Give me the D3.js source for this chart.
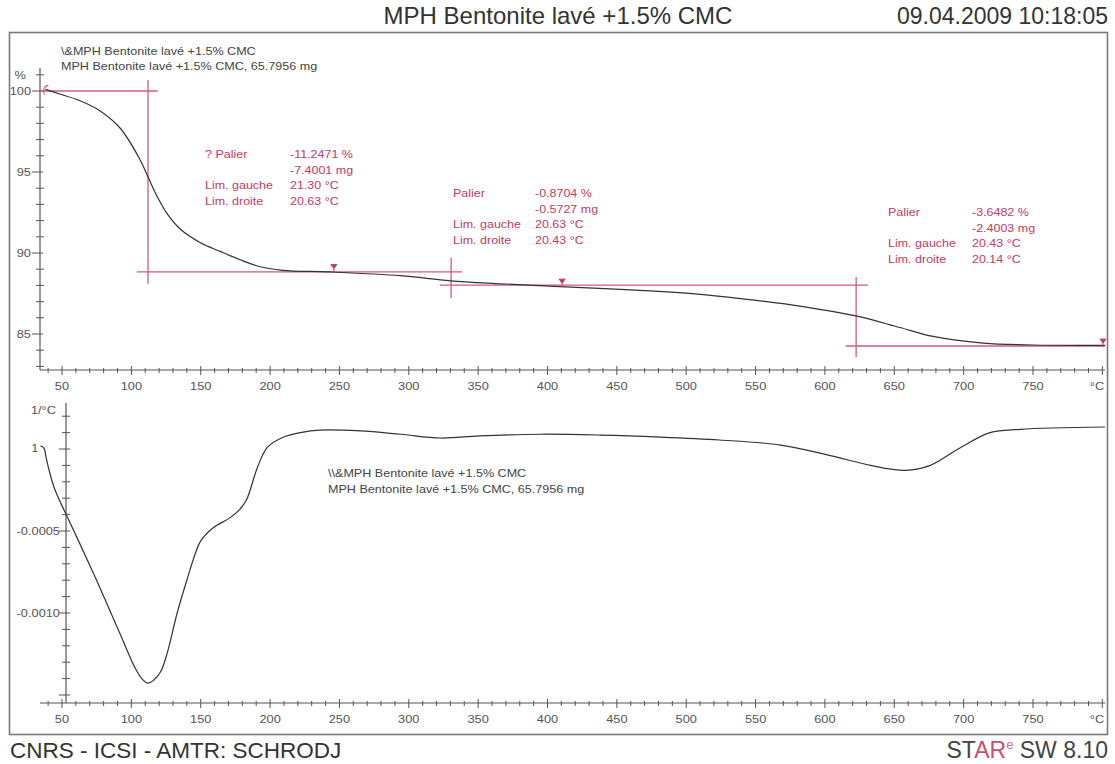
<!DOCTYPE html>
<html><head><meta charset="utf-8">
<script src="https://cdn.jsdelivr.net/npm/d3@7"></script>
<style>
body{margin:0;background:#fff}
svg{display:block}
text{font-family:"Liberation Sans",Arial,sans-serif}
</style>
</head><body>
<svg id="c" width="1115" height="764"></svg>
<script>
// ---------- DATA ----------
const titleText = "MPH Bentonite lavé +1.5% CMC";
const dateText = "09.04.2009 10:18:05";
const footerLeft = "CNRS - ICSI - AMTR: SCHRODJ";
const legendLines = ["\\&MPH Bentonite lavé +1.5% CMC", "MPH Bentonite lavé +1.5% CMC, 65.7956 mg"];
const legendLinesBottom = ["\\\\&MPH Bentonite lavé +1.5% CMC", "MPH Bentonite lavé +1.5% CMC, 65.7956 mg"];

// TG curve (temperature °C, mass %)
const tgTemp  = [38, 49, 63, 77, 92, 106, 112, 118.5, 126, 135, 149.5, 164, 178, 193, 209, 243, 294, 330, 366, 409, 460, 510, 558, 582, 623, 654, 678, 714, 750, 802];
const tgValue = [100.1, 99.8, 99.4, 98.8, 97.7, 95.8, 94.7, 93.5, 92.4, 91.5, 90.65, 90.1, 89.6, 89.15, 88.93, 88.83, 88.6, 88.28, 88.1, 87.92, 87.72, 87.45, 87.0, 86.72, 86.1, 85.4, 84.85, 84.44, 84.32, 84.3];

// DTG curve (temperature °C, 1/°C)
const dtgTemp  = [34.5, 37, 38.5, 41, 45, 53, 63, 77, 92, 103, 108, 112, 116, 121, 126, 133, 140, 146, 150, 159, 171, 178, 183, 191, 198, 209, 222, 236, 265, 294, 323, 351, 395, 438, 481, 524, 568, 604, 633, 658, 676, 697, 719, 741, 802];
const dtgValue = [0.00002, 0.000005, -0.00005, -0.00014, -0.00025, -0.0004, -0.00058, -0.00084, -0.00113, -0.00134, -0.001405, -0.001428, -0.00141, -0.00136, -0.00124, -0.00100, -0.0008, -0.00064, -0.00056, -0.00048, -0.00042, -0.00037, -0.00031, -0.00011, 0.00001, 0.00007, 0.0001, 0.000115, 0.00011, 0.00009, 0.000067, 0.00008, 0.00009, 0.000085, 0.000073, 0.000055, 0.000024, -0.00004, -0.0001, -0.00013, -0.0001, 0.000005, 0.0001, 0.00012, 0.000134];

// axes ticks
const xMajorTicks = [50, 100, 150, 200, 250, 300, 350, 400, 450, 500, 550, 600, 650, 700, 750];
const tgMajorTicks = [85, 90, 95, 100];
const dtgMajorTicks = [-0.0010, -0.0005];
const dtgTickLabels = ["-0.0010", "-0.0005"];

// step evaluation construction lines (T1, T2, v1, v2) in data units
const stepLinesT1 = [34, 112, 104, 330.5, 322.5, 622.5, 615];
const stepLinesT2 = [119, 112, 338.5, 330.5, 631, 622.5, 802];
const stepLinesV1 = [100.0, 100.68, 88.83, 89.7, 88.02, 88.52, 84.26];
const stepLinesV2 = [100.0, 88.1, 88.83, 87.22, 88.02, 83.58, 84.26];
const markerTemp = [246, 410.5, 800.5];
const markerValue = [89.1, 88.2, 84.5];

// step result texts
const stepNames  = ["? Palier", "Palier", "Palier"];
const stepPct    = ["-11.2471 %", "-0.8704 %", "-3.6482 %"];
const stepMg     = ["-7.4001 mg", "-0.5727 mg", "-2.4003 mg"];
const stepLeft   = ["21.30 °C", "20.63 °C", "20.43 °C"];
const stepRight  = ["20.63 °C", "20.43 °C", "20.14 °C"];

// ---------- LAYOUT ----------
const svg = d3.select("#c");
const RED = "#c63a62", REDL = "#d45a7c", INK = "#3a3a3a", AX = "#555";
const SX = 1.22;

const x = d3.scaleLinear().domain([50, 750]).range([62, 1033]);
const yTG = d3.scaleLinear().domain([100, 85]).range([91, 334]);
const yDTG = d3.scaleLinear().domain([0, -0.0010]).range([449, 613]);

const topAxisY = 370, botAxisY = 703;
const topYAxisX = 40, botYAxisX = 66;
const xMin = 34.1, xMax = 802;

function txt(g, px, py, s, o) {
  o = o || {};
  return g.append("text")
    .attr("transform", `translate(${px},${py}) scale(${o.sx || SX},1)`)
    .attr("text-anchor", o.anchor || "start")
    .attr("font-size", o.fs || 11)
    .attr("fill", o.fill || INK)
    .text(s);
}

// frame
svg.append("rect").attr("x", 9.5).attr("y", 32.5).attr("width", 1098).attr("height", 702)
  .attr("fill", "none").attr("stroke", "#7a7a7a").attr("stroke-width", 1.6);

// title / date / footer
txt(svg, 558, 24, titleText, {anchor: "middle", fs: 24, sx: 1, fill: "#333"});
txt(svg, 1108, 24, dateText, {anchor: "end", fs: 23, sx: 1, fill: "#333"});
txt(svg, 10, 758, footerLeft, {fs: 22.5, sx: 1, fill: "#333"});
const star = svg.append("text").attr("x", 1108).attr("y", 758).attr("text-anchor", "end")
  .attr("font-size", 23).attr("fill", "#444");
star.append("tspan").text("ST");
star.append("tspan").attr("fill", "#c8506e").text("AR");
star.append("tspan").attr("fill", "#d07088").attr("font-size", 13).attr("dy", -9).text("e");
star.append("tspan").attr("dy", 9).text(" SW 8.10");

// ---------- X axes ----------
function xAxis(yPos) {
  const g = svg.append("g");
  g.append("line").attr("x1", x(xMin)).attr("x2", x(xMax)).attr("y1", yPos).attr("y2", yPos)
    .attr("stroke", AX).attr("stroke-width", 1.2);
  const minors = d3.range(40, 801, 10);
  g.selectAll("line.mn").data(minors).join("line")
    .attr("x1", d => x(d)).attr("x2", d => x(d))
    .attr("y1", d => yPos - (d % 50 === 0 ? 4 : 2)).attr("y2", d => yPos + (d % 50 === 0 ? 5 : 3))
    .attr("stroke", AX).attr("stroke-width", 1);
  xMajorTicks.forEach(t => txt(g, x(t), yPos + 20, String(t), {anchor: "middle", fs: 10.5, fill: "#555"}));
  txt(g, 1097, yPos + 20, "°C", {anchor: "middle", fs: 10.5, fill: "#555"});
}
xAxis(topAxisY);
xAxis(botAxisY);

// ---------- TG y axis ----------
(function () {
  const g = svg.append("g");
  g.append("line").attr("x1", topYAxisX).attr("x2", topYAxisX)
    .attr("y1", 68).attr("y2", topAxisY).attr("stroke", AX).attr("stroke-width", 1.2);
  const minors = d3.range(83, 101.5, 1);
  g.selectAll("line.t").data(minors).join("line")
    .attr("x1", d => topYAxisX - (d % 5 === 0 ? 8 : 4)).attr("x2", d => topYAxisX + (d % 5 === 0 ? 3 : 4))
    .attr("y1", d => yTG(d)).attr("y2", d => yTG(d)).attr("stroke", AX);
  tgMajorTicks.forEach(v => txt(g, topYAxisX - 9, yTG(v) + 4, String(v), {anchor: "end", fs: 10.5, fill: "#555"}));
  txt(g, 26, 79, "%", {anchor: "end", fs: 10.5, fill: "#555"});
})();

// ---------- DTG y axis ----------
(function () {
  const g = svg.append("g");
  g.append("line").attr("x1", botYAxisX).attr("x2", botYAxisX)
    .attr("y1", 403).attr("y2", botAxisY).attr("stroke", AX).attr("stroke-width", 1.2);
  const minors = d3.range(-15, 3, 1).map(k => k * 0.0001);
  g.selectAll("line.t").data(minors).join("line")
    .attr("x1", (d, i) => botYAxisX - (i % 5 === 0 ? 7 : 4))
    .attr("x2", botYAxisX + 4)
    .attr("y1", d => yDTG(d)).attr("y2", d => yDTG(d)).attr("stroke", AX);
  dtgMajorTicks.forEach((v, i) => txt(g, botYAxisX - 6, yDTG(v) + 4, dtgTickLabels[i], {anchor: "end", fs: 10.5, fill: "#555"}));
  txt(g, 56, 414, "1/°C", {anchor: "end", fs: 10.5, fill: "#555"});
})();

// ---------- curves ----------
const tgData = tgTemp.map((t, i) => [t, tgValue[i]]);
const dtgData = dtgTemp.map((t, i) => [t, dtgValue[i]]);
const tgLine = d3.line().x(d => x(d[0])).y(d => yTG(d[1])).curve(d3.curveCatmullRom.alpha(0.5));
const dtgLine = d3.line().x(d => x(d[0])).y(d => yDTG(d[1])).curve(d3.curveCatmullRom.alpha(0.5));

// red construction lines (behind curve)
const sl = stepLinesT1.map((t, i) => ({t1: t, t2: stepLinesT2[i], v1: stepLinesV1[i], v2: stepLinesV2[i]}));
svg.append("g").selectAll("line").data(sl).join("line")
  .attr("x1", d => x(d.t1)).attr("x2", d => x(d.t2))
  .attr("y1", d => yTG(d.v1)).attr("y2", d => yTG(d.v2))
  .attr("stroke", REDL).attr("stroke-width", 1.3);

svg.append("path").datum(tgData).attr("d", tgLine)
  .attr("fill", "none").attr("stroke", "#333").attr("stroke-width", 1.2);
svg.append("path").datum(dtgData).attr("d", dtgLine)
  .attr("fill", "none").attr("stroke", "#333").attr("stroke-width", 1.2);

// markers
svg.append("g").selectAll("path").data(markerTemp.map((t, i) => [t, markerValue[i]])).join("path")
  .attr("transform", d => `translate(${x(d[0])},${yTG(d[1])})`)
  .attr("d", "M-3,-3L3,-3L0,1Z M0,1V5")
  .attr("fill", RED).attr("stroke", RED).attr("stroke-width", 1);
// curve start marks
svg.append("path").attr("transform", `translate(${x(tgTemp[0])},${yTG(tgValue[0])})`)
  .attr("d", "M-1,5 C-3,1 -1,-4 3,-4").attr("fill", "none").attr("stroke", REDL).attr("stroke-width", 1.2);
txt(svg, x(dtgTemp[0]) - 2, yDTG(dtgValue[0]) + 6, "1", {anchor: "end", fs: 10.5, fill: "#555"});

// legends
legendLines.forEach((s, i) => txt(svg, 61, 55 + i * 15, s, {fs: 10.5, fill: "#444", sx: 1.2}));
legendLinesBottom.forEach((s, i) => txt(svg, 328, 477 + i * 16, s, {fs: 10.5, fill: "#444", sx: 1.2}));

// step texts
const stepCol = [[205, 290, 158], [453, 535, 197], [888, 972, 216]];
stepNames.forEach((n, i) => {
  const [c1, c2, y0] = stepCol[i];
  const g = svg.append("g");
  const o = {fs: 10, fill: RED, sx: 1.25};
  txt(g, c1, y0, n, o);
  txt(g, c2, y0, stepPct[i], o);
  txt(g, c2, y0 + 15.5, stepMg[i], o);
  txt(g, c1, y0 + 31, "Lim. gauche", o);
  txt(g, c2, y0 + 31, stepLeft[i], o);
  txt(g, c1, y0 + 46.5, "Lim. droite", o);
  txt(g, c2, y0 + 46.5, stepRight[i], o);
});
</script>
</body></html>
